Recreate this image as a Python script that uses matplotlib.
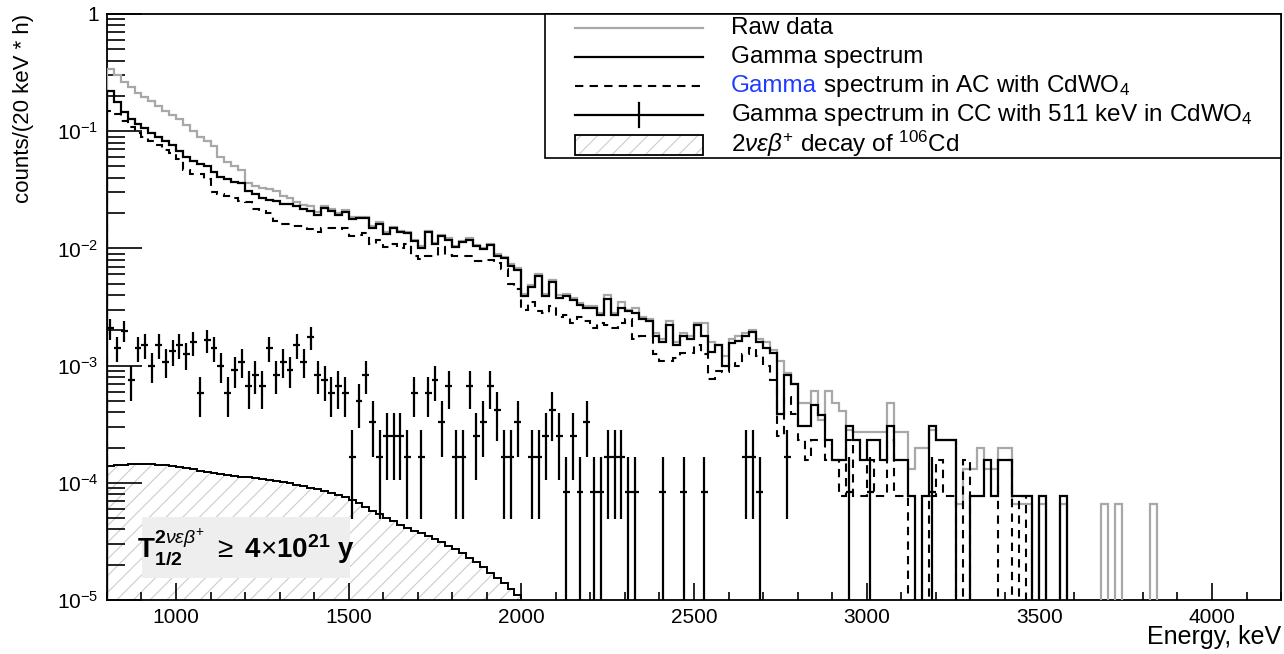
import numpy as np
import matplotlib
matplotlib.use('Agg')
import matplotlib.pyplot as plt
from matplotlib.patches import Rectangle
from matplotlib.lines import Line2D
from matplotlib.offsetbox import TextArea, HPacker, AnnotationBbox
from matplotlib.ticker import MultipleLocator, LogLocator, FuncFormatter, NullFormatter

plt.rcParams['font.family'] = ['Liberation Sans', 'DejaVu Sans']
plt.rcParams['mathtext.fontset'] = 'custom'
plt.rcParams['mathtext.rm'] = 'Liberation Sans'
plt.rcParams['mathtext.it'] = 'Liberation Sans:italic'
plt.rcParams['mathtext.bf'] = 'Liberation Sans:bold'
plt.rcParams['hatch.linewidth'] = 0.8

# binning: 20 keV bins from 800 to 4200 keV
bin_width = 20
edges = np.arange(800, 4200 + bin_width, bin_width)
centers = edges[:-1] + bin_width / 2

# counts/(20 keV * h), one value per bin
raw_data = [
    0.34, 0.30, 0.265, 0.24, 0.21, 0.195, 0.18, 0.165, 0.15, 0.138,
    0.128, 0.112, 0.100, 0.090, 0.082, 0.075, 0.060, 0.055, 0.050, 0.047,
    0.036, 0.034, 0.033, 0.032, 0.031, 0.028, 0.027, 0.025, 0.0235, 0.0228,
    0.0205, 0.0232, 0.0218, 0.0200, 0.0212, 0.0184, 0.0187, 0.0186, 0.0154, 0.0168,
    0.0137, 0.0152, 0.0142, 0.0139, 0.0119, 0.0104, 0.0141, 0.0111, 0.0130, 0.0122,
    0.0105, 0.0116, 0.0122, 0.0107, 0.0101, 0.0109, 0.0089, 0.0084, 0.0073, 0.0068,
    0.0041, 0.0049, 0.0060, 0.0041, 0.0054, 0.0040, 0.0041, 0.0038, 0.0034, 0.0032,
    0.0032, 0.0028, 0.0040, 0.0028, 0.0035, 0.0030, 0.0031, 0.0026, 0.0025, 0.0019,
    0.0017, 0.0024, 0.0016, 0.0019, 0.0018, 0.0023, 0.0023, 0.0016, 0.0015, 0.0012,
    0.0017, 0.0018, 0.0019, 0.0020, 0.0017, 0.0016, 0.00135, 0.0011, 0.00086, 0.00070,
    0.00048, 0.00048, 0.00061, 0.00034, 0.00061, 0.00048, 0.00041, 0.00028, 0.00027, 0.00027,
    0.00027, 0.00027, 0.00027, 0.00048, 0.00027, 0.00027, 0.00013, 0.00020, 0.00020, 0.00028,
    0.00023, 0.00023, 0.00023, 0.000066, 0.00013, 0.00013, 0.00020, 0.00013, 0.00013, 0.00020,
    0.00020, 0.000066, 0.000066, 0.000066, 0, 0.000066, 0, 0, 0.000066, 0,
    0, 0, 0, 0, 0.000066, 0, 0.000066, 0, 0, 0,
    0, 0.000066, 0, 0, 0, 0, 0, 0, 0, 0,
    0, 0, 0, 0, 0, 0, 0, 0, 0, 0,
]

gamma = [
    0.22, 0.177, 0.145, 0.127, 0.115, 0.106, 0.096, 0.090, 0.083, 0.076,
    0.068, 0.060, 0.056, 0.053, 0.050, 0.045, 0.041, 0.039, 0.037, 0.036,
    0.031, 0.029, 0.027, 0.026, 0.0255, 0.024, 0.0238, 0.023, 0.0215, 0.021,
    0.0193, 0.0223, 0.021, 0.0193, 0.0205, 0.0177, 0.018, 0.018, 0.0148, 0.0163,
    0.0132, 0.0148, 0.0138, 0.0135, 0.0115, 0.0100, 0.0137, 0.0108, 0.0127, 0.0119,
    0.0102, 0.0113, 0.0119, 0.0104, 0.0098, 0.0106, 0.0086, 0.0082, 0.0071, 0.0066,
    0.0039, 0.0047, 0.0058, 0.0039, 0.0052, 0.0038, 0.0039, 0.0036, 0.0033, 0.0031,
    0.0031, 0.0027, 0.0037, 0.0027, 0.0031, 0.0029, 0.0028, 0.0025, 0.0024, 0.0018,
    0.0016, 0.0022, 0.0015, 0.0018, 0.0017, 0.0022, 0.0018, 0.0013, 0.0015, 0.0010,
    0.00155, 0.00163, 0.0018, 0.00192, 0.0016, 0.00142, 0.00129, 0.00039, 0.00083, 0.00069,
    0.000305, 0.000305, 0.00046, 0.00038, 0.00023, 0.000155, 0.000155, 0.000305, 0.00023, 0.000155,
    0.00023, 0.00023, 0.000155, 0.000305, 0.000155, 0.000155, 0.000077, 0, 0.000077, 0.000305,
    0.00023, 0.00023, 0.00023, 0, 0, 0.000077, 0.000077, 0.000155, 0.000077, 0.000155,
    0.000155, 0.000077, 0.000077, 0.000077, 0, 0.000077, 0, 0, 0.000077, 0,
    0, 0, 0, 0, 0, 0, 0, 0, 0, 0,
    0, 0, 0, 0, 0, 0, 0, 0, 0, 0,
    0, 0, 0, 0, 0, 0, 0, 0, 0, 0,
]

gamma_ac = [
    0.15, 0.14, 0.122, 0.108, 0.096, 0.089, 0.083, 0.076, 0.069, 0.065,
    0.058, 0.047, 0.043, 0.043, 0.039, 0.030, 0.029, 0.028, 0.027, 0.0255,
    0.0248, 0.0217, 0.0209, 0.0200, 0.0170, 0.0160, 0.0160, 0.0155, 0.0155, 0.0145,
    0.0137, 0.0150, 0.0150, 0.0145, 0.0148, 0.0127, 0.0130, 0.0134, 0.0110, 0.0119,
    0.0102, 0.0108, 0.0100, 0.0108, 0.0086, 0.0081, 0.0086, 0.0086, 0.0102, 0.0087,
    0.0086, 0.0086, 0.0086, 0.0078, 0.0078, 0.0080, 0.0075, 0.0067, 0.0050, 0.0045,
    0.0030, 0.0035, 0.0029, 0.0028, 0.0032, 0.0026, 0.0027, 0.0023, 0.0026, 0.0024,
    0.0021, 0.0023, 0.0022, 0.0021, 0.0023, 0.0025, 0.0017, 0.0018, 0.0018, 0.00125,
    0.0011, 0.0011, 0.00117, 0.00128, 0.00128, 0.0015, 0.00125, 0.00077, 0.0009, 0.00088,
    0.00105, 0.0010, 0.00125, 0.0014, 0.0012, 0.0010, 0.00075, 0.00025, 0.00054, 0.00039,
    0.00023, 0.000155, 0.00023, 0.00023, 0.000155, 0.000155, 0.000077, 0.00023, 0.000077, 0.000077,
    0.000155, 0.000077, 0.000077, 0.00023, 0.000077, 0.000077, 0, 0, 0, 0.000077,
    0.000155, 0.000077, 0.000077, 0, 0.000155, 0, 0, 0, 0, 0.000155,
    0.000155, 0, 0.000077, 0, 0, 0, 0, 0, 0, 0,
    0, 0, 0, 0, 0, 0, 0, 0, 0, 0,
    0, 0, 0, 0, 0, 0, 0, 0, 0, 0,
    0, 0, 0, 0, 0, 0, 0, 0, 0, 0,
]

# coincidence spectrum, raw counts per bin (1 count = cc_unit)
cc_counts = [
    25, 17, 24, 9, 17, 18, 12, 18, 13, 16,
    18, 15, 19, 7, 20, 17, 12, 7, 11, 13,
    8, 10, 8, 17, 10, 13, 11, 18, 13, 21,
    10, 9, 7, 8, 7, 2, 6, 10, 4, 2,
    3, 3, 3, 2, 7, 2, 7, 9, 4, 8,
    2, 2, 8, 3, 4, 8, 5, 2, 2, 4,
    0, 2, 2, 3, 5, 3, 1, 3, 1, 4,
    1, 1, 2, 2, 2, 1, 1, 0, 0, 0,
    1, 0, 0, 1, 0, 0, 1, 0, 0, 0,
    0, 0, 2, 2, 1, 0, 0, 0, 2, 0,
    0, 0, 0, 0, 0, 0, 0, 1, 0, 0,
    1, 0, 0, 0, 0, 0, 0, 0, 0, 1,
] + [0] * 50
cc_unit = 8.3e-5

# 2v eps beta+ decay of 106Cd (x 1e-4), 800-2000 keV
decay_edges = np.arange(800, 2000 + bin_width, bin_width)
decay = np.array([
    1.40, 1.42, 1.43, 1.44, 1.44, 1.44, 1.44, 1.43, 1.41, 1.39,
    1.37, 1.34, 1.31, 1.27, 1.24, 1.21, 1.19, 1.17, 1.15, 1.13,
    1.11, 1.09, 1.07, 1.05, 1.03, 1.01, 0.99, 0.96, 0.94, 0.91,
    0.88, 0.85, 0.82, 0.79, 0.75, 0.71, 0.67, 0.62, 0.58, 0.54,
    0.50, 0.47, 0.44, 0.41, 0.39, 0.37, 0.35, 0.33, 0.31, 0.29,
    0.27, 0.25, 0.23, 0.21, 0.19, 0.17, 0.155, 0.14, 0.125, 0.11,
]) * 1e-4

fig = plt.figure(figsize=(12.84, 6.54), dpi=100)
ax = fig.add_axes([0.0833, 0.0826, 0.9144, 0.896])
ax.set_yscale('log')
ax.set_xlim(800, 4200)
ax.set_ylim(1e-5, 1)

hatch_grey = '#cccccc'

# hatched decay spectrum
ax.stairs(decay, decay_edges, baseline=1e-7, fill=True, facecolor='none',
          edgecolor=hatch_grey, hatch='//', linewidth=0, zorder=1)
ax.stairs(decay, decay_edges, color='black', linewidth=1.4, zorder=2)

ax.stairs(raw_data, edges, color='#a8a8a8', linewidth=1.6, zorder=3)
ax.stairs(gamma_ac, edges, color='black', linewidth=1.5, linestyle=(0, (4, 3)), zorder=3)
ax.stairs(gamma, edges, color='black', linewidth=1.6, zorder=4)

cc = np.array(cc_counts)
m = cc > 0
ax.errorbar(centers[m], cc[m] * cc_unit, xerr=bin_width / 2, yerr=np.sqrt(cc[m]) * cc_unit,
            fmt='none', ecolor='black', elinewidth=1.6, capsize=0, zorder=4)

# axes styling
for s in ax.spines.values():
    s.set_linewidth(1.3)
ax.xaxis.set_major_locator(MultipleLocator(500))
ax.xaxis.set_minor_locator(MultipleLocator(100))
ax.yaxis.set_major_locator(LogLocator(base=10))
ax.yaxis.set_minor_locator(LogLocator(base=10, subs=np.arange(2, 10)))
ax.yaxis.set_minor_formatter(NullFormatter())
ax.yaxis.set_major_formatter(FuncFormatter(
    lambda v, p: '1' if abs(v - 1) < 1e-9 else r'$10^{%d}$' % round(np.log10(v))))
ax.tick_params(axis='x', which='major', direction='in', length=12, width=1.2, labelsize=15, pad=6)
ax.tick_params(axis='x', which='minor', direction='in', length=6, width=1.2)
ax.tick_params(axis='y', which='major', direction='in', length=25, width=1.2, labelsize=15, pad=6)
ax.tick_params(axis='y', which='minor', direction='in', length=13, width=1.2)

ax.set_xlabel('Energy, keV', loc='right', fontsize=18)
ax.xaxis.set_label_coords(1.0, -0.043)
ax.set_ylabel('counts/(20 keV * h)', loc='top', fontsize=16)
ax.yaxis.set_label_coords(-0.062, 1.0)

# half-life box
ax.add_patch(Rectangle((0.0298, 0.0375), 0.177, 0.104, transform=ax.transAxes,
                       facecolor='#eeeeee', edgecolor='none', zorder=5))
ax.text(0.118, 0.09,
        r'$\mathbf{T}_{\mathbf{1/2}}^{\mathbf{2}\nu\varepsilon\beta^{+}}$ $\geq$ $\mathbf{4}{\times}\mathbf{10^{21}}$ $\mathbf{y}$',
        transform=ax.transAxes, ha='center', va='center', fontsize=20, fontweight='bold', zorder=6)

# legend, drawn by hand so one word can be blue
ax.add_patch(Rectangle((0.373, 0.754), 0.627, 0.246, transform=ax.transAxes,
                       facecolor='white', edgecolor='black', linewidth=1.2, zorder=7, clip_on=False))
hx0, hx1, tx = 0.3986, 0.5077, 0.5315
rows = [0.976, 0.9266, 0.877, 0.8276, 0.778]
leg_fs = 17.5

ax.add_line(Line2D([hx0, hx1], [rows[0]] * 2, transform=ax.transAxes, color='#a8a8a8', lw=1.6, zorder=8))
ax.add_line(Line2D([hx0, hx1], [rows[1]] * 2, transform=ax.transAxes, color='black', lw=1.6, zorder=8))
ax.add_line(Line2D([hx0, hx1], [rows[2]] * 2, transform=ax.transAxes, color='black', lw=1.5,
                   linestyle=(0, (4, 3)), zorder=8))
ax.add_line(Line2D([hx0, hx1], [rows[3]] * 2, transform=ax.transAxes, color='black', lw=1.6, zorder=8))
ax.add_line(Line2D([(hx0 + hx1) / 2] * 2, [rows[3] - 0.02, rows[3] + 0.02], transform=ax.transAxes,
                   color='black', lw=1.6, zorder=8))
ax.add_patch(Rectangle((hx0, 0.7594), hx1 - hx0, 0.0341, transform=ax.transAxes, facecolor='white',
                       edgecolor=hatch_grey, hatch='//', linewidth=0, zorder=8))
ax.add_patch(Rectangle((hx0, 0.7594), hx1 - hx0, 0.0341, transform=ax.transAxes, facecolor='none',
                       edgecolor='black', linewidth=1.3, zorder=9))

labels = [
    [('Raw data', 'black')],
    [('Gamma spectrum', 'black')],
    [('Gamma', '#1f3cff'), (' spectrum in AC with CdWO$_4$', 'black')],
    [('Gamma spectrum in CC with 511 keV in CdWO$_4$', 'black')],
    [(r'2$\nu\varepsilon\beta^{+}$ decay of $^{106}$Cd', 'black')],
]
for y, parts in zip(rows, labels):
    boxes = [TextArea(t, textprops=dict(color=c, fontsize=leg_fs)) for t, c in parts]
    pack = HPacker(children=boxes, align='baseline', pad=0, sep=0)
    ab = AnnotationBbox(pack, (tx, y), xycoords=ax.transAxes, box_alignment=(0, 0.5),
                        frameon=False, pad=0, zorder=9)
    ax.add_artist(ab)

fig.savefig('out.png', dpi=100)
